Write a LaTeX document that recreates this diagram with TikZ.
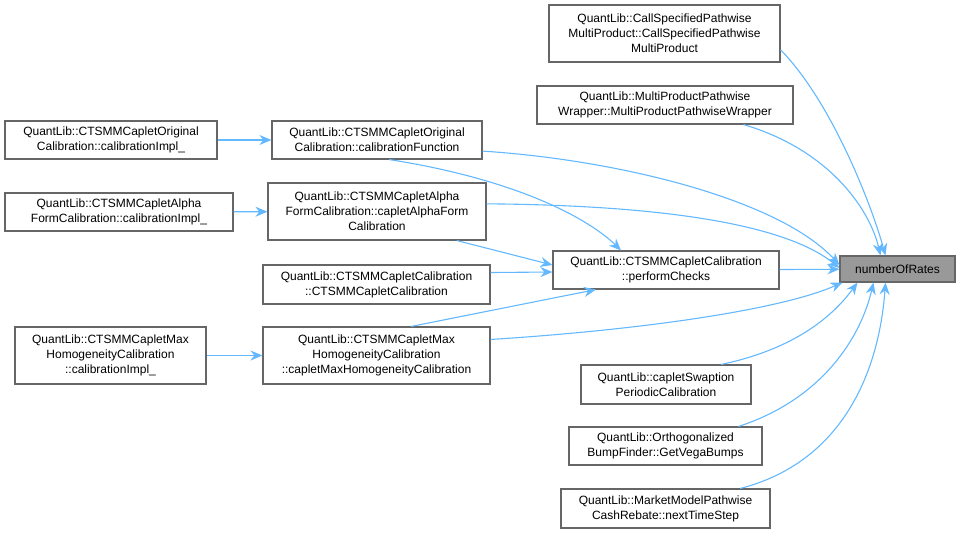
\documentclass[tikz,border=0pt]{standalone}
\usepackage{fontspec}
\setmainfont{Liberation Sans}
\usetikzlibrary{arrows.meta}
\definecolor{edgec}{HTML}{63B8FF}
\definecolor{boxc}{HTML}{666666}
\tikzset{
  box/.style={draw=boxc,line width=1.1pt,fill=white,inner sep=0pt,align=center,font=\fontsize{12}{15}\selectfont},
  hl/.style={box,fill=black!40},
  e/.style={draw=edgec,line width=1.1pt,-{Stealth[length=12pt,width=10pt]}}
}
\begin{document}
\begin{tikzpicture}[x=1pt,y=1pt]
\useasboundingbox (0,0) rectangle (959,-538);
\node[hl,minimum width=115,minimum height=26] (n) at (897.5,-269) {numberOfRates};
\node[box,minimum width=231,minimum height=57] (cs) at (664.5,-33.5) {QuantLib::CallSpecifiedPathwise\\MultiProduct::CallSpecifiedPathwise\\MultiProduct};
\node[box,minimum width=256,minimum height=38] (mpw) at (665,-105) {QuantLib::MultiProductPathwise\\Wrapper::MultiProductPathwiseWrapper};
\node[box,minimum width=210,minimum height=38] (cf) at (377,-140) {QuantLib::CTSMMCapletOriginal\\Calibration::calibrationFunction};
\node[box,minimum width=212,minimum height=38] (oi) at (111,-140) {QuantLib::CTSMMCapletOriginal\\Calibration::calibrationImpl\_};
\node[box,minimum width=218,minimum height=57] (ca) at (377,-211.5) {QuantLib::CTSMMCapletAlpha\\FormCalibration::capletAlphaForm\\Calibration};
\node[box,minimum width=228,minimum height=38] (ai) at (119,-212) {QuantLib::CTSMMCapletAlpha\\FormCalibration::calibrationImpl\_};
\node[box,minimum width=226,minimum height=38] (pc) at (666,-270) {QuantLib::CTSMMCapletCalibration\\::performChecks};
\node[box,minimum width=227,minimum height=39] (ctc) at (376.5,-284.5) {QuantLib::CTSMMCapletCalibration\\::CTSMMCapletCalibration};
\node[box,minimum width=227,minimum height=57] (mh) at (376.5,-355.5) {QuantLib::CTSMMCapletMax\\HomogeneityCalibration\\::capletMaxHomogeneityCalibration};
\node[box,minimum width=191,minimum height=57] (mi) at (110.5,-355.5) {QuantLib::CTSMMCapletMax\\HomogeneityCalibration\\::calibrationImpl\_};
\node[box,minimum width=170,minimum height=39] (csp) at (666,-384.5) {QuantLib::capletSwaption\\PeriodicCalibration};
\node[box,minimum width=193,minimum height=38] (ob) at (665.5,-446) {QuantLib::Orthogonalized\\BumpFinder::GetVegaBumps};
\node[box,minimum width=209,minimum height=39] (mr) at (665.5,-508.5) {QuantLib::MarketModelPathwise\\CashRebate::nextTimeStep};
% edges into numberOfRates
\draw[e] (cs.-8) .. controls (830,-100) and (870,-200) .. ([xshift=-12pt]n.north);
\draw[e] (mpw.-14) .. controls (830,-150) and (870,-210) .. ([xshift=-17pt]n.north);
\draw[e] (cf.-6) .. controls (620,-160) and (780,-200) .. ([yshift=4pt]n.west);
\draw[e] (ca.4) .. controls (640,-205) and (780,-220) .. ([yshift=1pt]n.west);
\draw[e] (pc) -- (n);
\draw[e] (mh.8) .. controls (640,-330) and (780,-310) .. ([xshift=3pt]n.south west);
\draw[e] (csp.20) .. controls (790,-350) and (830,-320) .. ([xshift=-40pt]n.south);
\draw[e] (ob.15) .. controls (820,-400) and (860,-340) .. ([xshift=-24pt]n.south);
\draw[e] (mr.15) .. controls (850,-460) and (880,-360) .. ([xshift=-12pt]n.south);
% left edges
\draw[e] (oi) -- (cf);
\draw[e] (ai) -- (ca);
\draw[e] (mi) -- (mh);
% into performChecks
\draw[e] (cf.-58) .. controls (520,-180) and (590,-220) .. ([xshift=-45pt]pc.north);
\draw[e] (ca.-20) -- ([yshift=5pt]pc.west);
\draw[e] (ctc.6) -- ([yshift=-2pt]pc.west);
\draw[e] (mh.40) -- ([xshift=-70pt]pc.south);
\end{tikzpicture}
\end{document}
